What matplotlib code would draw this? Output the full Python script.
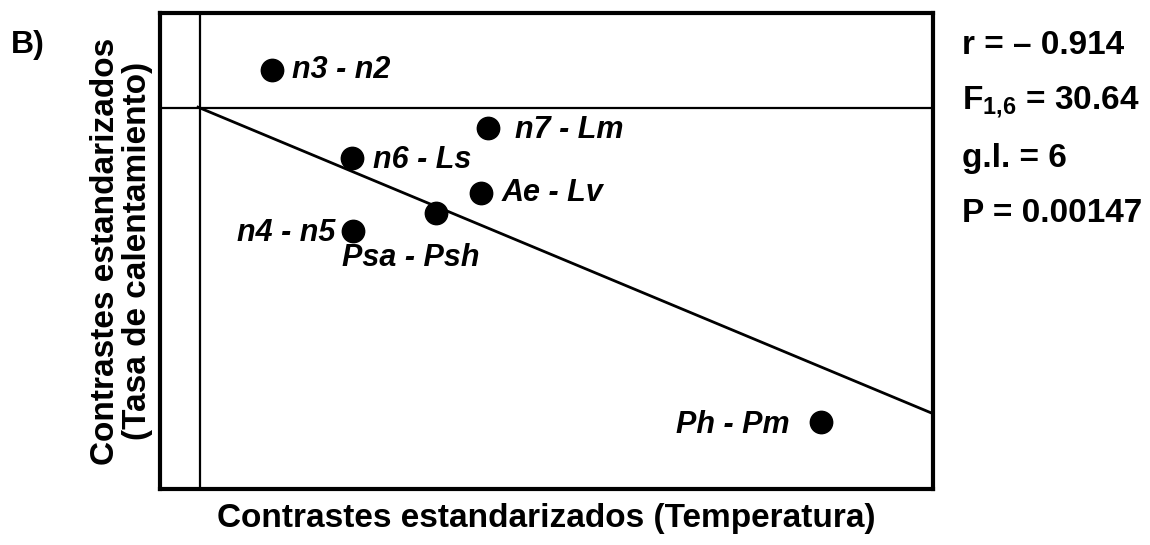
import numpy as np
import matplotlib
matplotlib.use("Agg")
import matplotlib.pyplot as plt

plt.rcParams['font.family'] = ['Liberation Sans', 'DejaVu Sans']
plt.rcParams['mathtext.fontset'] = 'custom'
plt.rcParams['mathtext.rm'] = 'Liberation Sans:bold'
plt.rcParams['mathtext.bf'] = 'Liberation Sans:bold'

# datos (contrastes estandarizados)
pares = ["n3 - n2", "n7 - Lm", "n6 - Ls", "Ae - Lv", "Psa - Psh", "n4 - n5", "Ph - Pm"]
temp = np.array([0.72, 2.88, 1.52, 2.81, 2.36, 1.53, 6.21])
tasa = np.array([0.38, -0.20, -0.50, -0.85, -1.05, -1.23, -3.14])
stats = ["r = \u2013 0.914", r"F$_{\mathbf{1{,}6}}$ = 30.64", "g.l. = 6", "P = 0.00147"]

# desplazamiento de etiquetas en pixeles y alineacion
offs = [(20, 0, 'left'), (27, -2, 'left'), (21, -2, 'left'), (21, 0, 'left'),
        (-25, -45, 'center'), (-18, -2, 'right'), (-31, -3, 'right')]

fig = plt.figure(figsize=(11.5, 5.45), dpi=100)
ax = fig.add_axes([160/1150, 1-489/545, (933-160)/1150, (489-13)/545])

ax.set_xlim(-0.40, 7.33)
ax.set_ylim(-3.81, 0.95)
ax.axvline(0, color='black', lw=1.6)
ax.axhline(0, color='black', lw=1.6)

# regresion por el origen
b = np.sum(temp*tasa)/np.sum(temp**2)
xx = np.array([-0.02, 7.33])
ax.plot(xx, b*xx, color='black', lw=2)

ax.scatter(temp, tasa, s=260, color='black', zorder=3)
for nom, x, y, (dx, dy, ha) in zip(pares, temp, tasa, offs):
    ax.annotate(nom, (x, y), xytext=(dx, dy), textcoords='offset pixels',
                ha=ha, va='center', fontsize=22, fontweight='bold', fontstyle='italic')

for s in ax.spines.values():
    s.set_linewidth(3)
ax.set_xticks([])
ax.set_yticks([])

ax.set_xlabel("Contrastes estandarizados (Temperatura)", fontsize=24, fontweight='bold', labelpad=10)
ax.set_ylabel("Contrastes estandarizados\n(Tasa de calentamiento)", fontsize=24, fontweight='bold', labelpad=5, linespacing=1.05)

ys = [46, 103, 158, 213]
for t, y in zip(stats, ys):
    fig.text(962/1150, 1-y/545, t, fontsize=24, fontweight='bold', va='center', ha='left')

fig.text(11/1150, 1-45/545, "B)", fontsize=23, fontweight='bold', va='center', ha='left')

fig.savefig("out.png", dpi=100)
